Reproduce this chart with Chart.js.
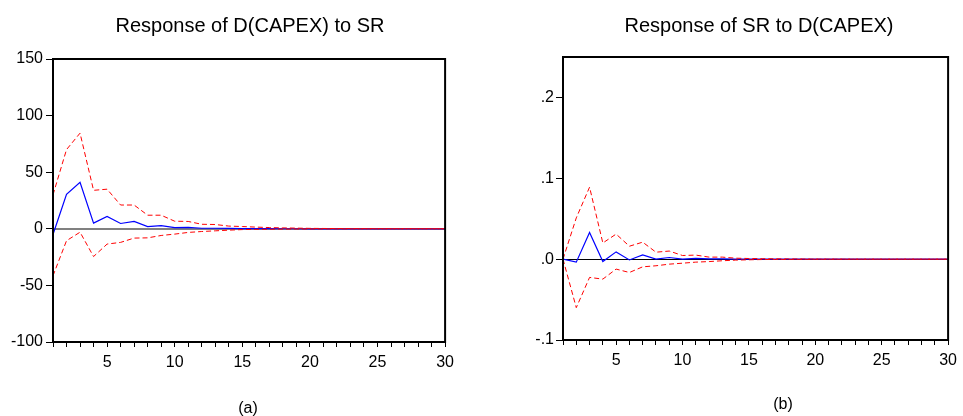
<!DOCTYPE html>
<html>
<head>
<meta charset="utf-8">
<script src="https://cdn.jsdelivr.net/npm/chart.js@4"></script>
<style>
  body { margin: 0; background: #fff; font-family: "Liberation Sans", Arial, sans-serif; }
  #wrap { position: relative; width: 963px; height: 416px; overflow: hidden; }
  .box { position: absolute; top: 0; height: 416px; }
  .txt { position: absolute; white-space: nowrap; line-height: 1; color: #000; transform: translateX(-50%); }
  .title { font-size: 20px; top: 15px; }
  .cap { font-size: 16px; }
</style>
</head>
<body>
<div id="wrap">
  <div class="box" style="left:0;width:460px"><canvas id="leftChart"></canvas></div>
  <div class="box" style="left:500px;width:463px"><canvas id="rightChart"></canvas></div>
  <div class="txt title" style="left:250px">Response of D(CAPEX) to SR</div>
  <div class="txt title" style="left:759px">Response of SR to D(CAPEX)</div>
  <div class="txt cap" style="left:248px;top:400px">(a)</div>
  <div class="txt cap" style="left:783px;top:396px">(b)</div>
</div>
<script>
const periods = [1,2,3,4,5,6,7,8,9,10,11,12,13,14,15,16,17,18,19,20,21,22,23,24,25,26,27,28,29,30];

// Response of D(CAPEX) to SR
const capexMid   = [-5, 30.5, 41, 5, 11, 4.7, 6.5, 2, 2.8, 1, 1.3, 0.5, 0.5, 0.3, 0.2, 0.1, 0.1, 0.05, 0.05, 0, 0, 0, 0, 0, 0, 0, 0, 0, 0, 0];
const capexUpper = [30, 70, 84.5, 34, 35, 21, 21, 12, 12, 6.7, 6.5, 4, 3.8, 2.4, 2, 1.5, 1.1, 0.8, 0.6, 0.4, 0.3, 0.2, 0.15, 0.1, 0.08, 0.06, 0.05, 0.04, 0.03, 0.02];
const capexLower = [-41.5, -10.5, -3, -24.5, -13.5, -12, -8.2, -8, -5.9, -4.7, -3.2, -2.4, -1.8, -1.2, -0.7, -0.5, -0.35, -0.25, -0.18, -0.12, -0.08, -0.06, -0.04, -0.03, -0.02, -0.02, -0.01, -0.01, -0.01, -0.01];

// Response of SR to D(CAPEX)
const srMid   = [0, -0.0037, 0.033, -0.003, 0.009, -0.001, 0.0053, 0, 0.002, 0, 0.001, 0.0003, 0.0003, 0.0001, 0.0001, 0, 0, 0, 0, 0, 0, 0, 0, 0, 0, 0, 0, 0, 0, 0];
const srUpper = [0, 0.051, 0.089, 0.020, 0.031, 0.016, 0.021, 0.0086, 0.010, 0.0045, 0.005, 0.0025, 0.0025, 0.0012, 0.0008, 0.0005, 0.0004, 0.0003, 0.0002, 0.0001, 0.0001, 0.0001, 0, 0, 0, 0, 0, 0, 0, 0];
const srLower = [0, -0.060, -0.0226, -0.0247, -0.0123, -0.0165, -0.0095, -0.0082, -0.0062, -0.005, -0.0037, -0.003, -0.002, -0.0012, -0.0008, -0.0005, -0.0004, -0.0003, -0.0002, -0.0001, -0.0001, -0.0001, 0, 0, 0, 0, 0, 0, 0, 0];

const leftYTicks = [-100, -50, 0, 50, 100, 150];
const rightYTicks = [-0.1, 0, 0.1, 0.2];
const rightYLabels = ['-.1', '.0', '.1', '.2'];
const xLabelEvery = 5;

const FONT = { family: '"Liberation Sans", Arial, sans-serif', size: 16 };

const framePlugin = {
  id: 'frame',
  beforeDatasetsDraw(chart, args, opts) {
    const {ctx, chartArea: a, scales} = chart;
    const y0 = Math.round(scales.y.getPixelForValue(0)) + (opts.zeroWidth % 2 ? 0.5 : 0);
    ctx.save();
    ctx.strokeStyle = opts.zeroColor;
    ctx.lineWidth = opts.zeroWidth;
    ctx.beginPath();
    ctx.moveTo(a.left, y0);
    ctx.lineTo(a.right, y0);
    ctx.stroke();
    ctx.restore();
  },
  afterDraw(chart) {
    const {ctx, chartArea: a} = chart;
    ctx.save();
    ctx.strokeStyle = '#000';
    ctx.lineWidth = 2;
    ctx.strokeRect(a.left, a.top, a.right - a.left, a.bottom - a.top);
    ctx.restore();
  }
};

function makeChart(id, mid, upper, lower, yMin, yMax, yTicks, yLabel, box) {
  return new Chart(document.getElementById(id).getContext('2d'), {
    type: 'line',
    data: {
      labels: periods,
      datasets: [{
        data: upper,
        borderColor: '#ff0000',
        borderWidth: 1,
        borderDash: [5, 3]
      }, {
        data: lower,
        borderColor: '#ff0000',
        borderWidth: 1,
        borderDash: [5, 3]
      }, {
        data: mid,
        borderColor: '#0000ff',
        borderWidth: 1.2
      }]
    },
    plugins: [framePlugin],
    options: {
      responsive: true,
      maintainAspectRatio: false,
      animation: false,
      elements: { point: { radius: 0 }, line: { tension: 0 } },
      layout: { padding: { top: box.top, right: box.right, left: 0, bottom: 0 } },
      plugins: {
        legend: { display: false },
        tooltip: { enabled: false },
        frame: { zeroColor: box.zeroColor, zeroWidth: box.zeroWidth }
      },
      scales: {
        x: {
          type: 'linear',
          min: 1,
          max: 30,
          afterBuildTicks: s => { s.ticks = periods.map(v => ({ value: v })); },
          afterFit: s => { s.height = box.xh; },
          border: { display: false },
          grid: { drawOnChartArea: false, drawTicks: true, tickLength: 5, color: '#000', lineWidth: 1 },
          ticks: {
            autoSkip: false,
            maxRotation: 0,
            padding: 6,
            color: '#000',
            font: FONT,
            callback: v => (v % xLabelEvery === 0 ? String(v) : '')
          }
        },
        y: {
          min: yMin,
          max: yMax,
          afterBuildTicks: s => { s.ticks = yTicks.map(v => ({ value: v })); },
          afterFit: s => { s.width = box.yw; },
          border: { display: false },
          grid: { drawOnChartArea: false, drawTicks: true, tickLength: 7, color: '#000', lineWidth: 1 },
          ticks: {
            padding: box.yPad,
            color: '#000',
            font: FONT,
            callback: (v, i) => yLabel(v, i)
          }
        }
      }
    }
  });
}

const leftChart = makeChart('leftChart', capexMid, capexUpper, capexLower, -100, 150, leftYTicks,
  v => String(v),
  { top: 59, right: 13, xh: 74, yw: 53, yPad: 3, zeroColor: '#808080', zeroWidth: 2 });

const rightChart = makeChart('rightChart', srMid, srUpper, srLower, -0.1, 0.25, rightYTicks,
  (v, i) => rightYLabels[i],
  { top: 57, right: 7, xh: 76, yw: 63, yPad: 2, zeroColor: '#000', zeroWidth: 1 });
</script>
</body>
</html>
